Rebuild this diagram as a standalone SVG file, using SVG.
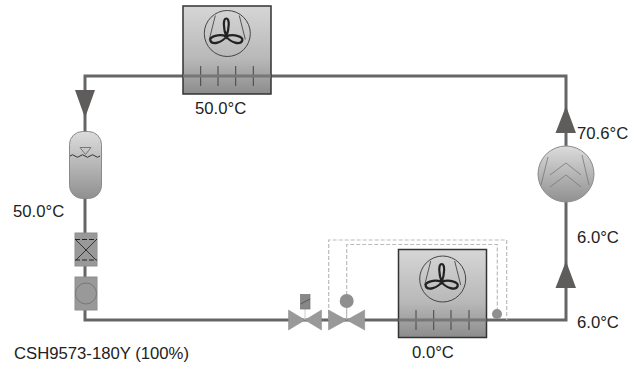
<svg xmlns="http://www.w3.org/2000/svg" width="642" height="365" viewBox="0 0 642 365">
<style>
text{font-family:"Liberation Sans",Arial,sans-serif;font-size:16.700px;fill:#222}
.pipe{fill:none;stroke:#666;stroke-width:3}
.box{stroke:#333;stroke-width:1.500;fill:url(#g)}
.tick{stroke:#444;stroke-width:1;fill:none}
.thin{stroke:#555;stroke-width:1;fill:none}
.blade{fill:none;stroke:#222;stroke-width:2.200}
.dash{fill:none;stroke:#bbb;stroke-width:1.200;stroke-dasharray:4 2}
.arrow{fill:#5f5c5c}
.valve{fill:#999;stroke:#8a8a8a;stroke-width:.5}
.dev{fill:#999;stroke:#8e8e8e}
</style>
<defs>
<linearGradient id="g" x1="0" y1="0" x2="0" y2="1"><stop offset="0" stop-color="#d6d6d6"/><stop offset=".6" stop-color="#b8b8b8"/><stop offset="1" stop-color="#8c8c8c"/></linearGradient>
<linearGradient id="r" x1="0" y1="0" x2="0" y2="1"><stop offset="0" stop-color="#dcdcdc"/><stop offset="1" stop-color="#909090"/></linearGradient>
<g id="fan">
<circle r="23" fill="none" stroke="#444" stroke-width="1"/>
<path class="thin" d="M-12 -18L-18 6M12 -18L18 6"/>
<path class="blade" d="M-1 3C-4 -5 -4.500 -15 -1 -15C2.500 -15 2 -5 -1 3ZM-1 3C6 0 16 3 15 7C13 12 3 9 -1 3ZM-1 3C-8 0 -18 3 -17 7C-15 12 -5 9 -1 3Z"/>
</g>
</defs>
<g id="connectors">
<path class="pipe" d="M85 76H566V320H85Z"/>
<path class="arrow" d="M75 90H95L85 118Z"/>
<path class="arrow" d="M555.500 133H576L566 106Z"/>
<path class="arrow" d="M555.500 288H576L566 261Z"/>
<path class="dash" d="M328.700 320V240H506.700V320"/>
<path class="dash" d="M346.700 295V244.500H497.300V310"/>
</g>
<g id="condenser">
<rect class="box" x="183" y="6" width="88" height="88"/>
<use href="#fan" x="227.300" y="33.500"/>
<path class="tick" d="M200.700 66V86M218 66V86M235.700 66V86M253.300 66V86"/>
<path d="M183 76H271" stroke="#777" stroke-width="3"/>
</g>
<g id="receiver">
<rect x="69.500" y="131.500" width="32" height="67" rx="13" fill="url(#r)" stroke="#8a8a8a"/>
<path d="M70 156q2.500 -2.500 5 0t5 0t5 0t5 0t5 0t5 0" fill="none" stroke="#333" stroke-width="1"/>
<path d="M80 147.500H91L85.500 154.500Z" fill="none" stroke="#777"/>
</g>
<g id="filter">
<rect class="dev" x="75" y="233" width="22" height="33"/>
<path d="M75 239.500H97M75 260H97" stroke="#222" stroke-width="1" stroke-dasharray="5 2"/>
<path d="M76 240L96 260M96 240L76 260" stroke="#333" stroke-width="1"/>
</g>
<g id="sightglass">
<rect class="dev" x="75" y="277" width="22" height="33"/>
<circle cx="86" cy="293.500" r="10.500" fill="#999" stroke="#777"/>
</g>
<g id="solenoid-valve">
<path class="valve" d="M288.500 310V330L305 320L321.500 330V310L305 320Z"/>
<path d="M305 309V320" stroke="#ccc"/>
<rect x="300.500" y="294.500" width="9.500" height="14.500" fill="#888" stroke="#777" stroke-width=".7"/>
<path d="M300.500 304L310 299" stroke="#444" stroke-width=".7"/>
</g>
<g id="expansion-valve">
<path class="valve" d="M328.500 310V330L346.700 320L364.700 330V310L346.700 320Z"/>
<path d="M346.700 307V320" stroke="#aaa"/>
<circle cx="346.700" cy="301" r="7" fill="#8f8f8f"/>
</g>
<g id="evaporator">
<rect class="box" x="398.500" y="249.500" width="88" height="88"/>
<use href="#fan" x="442.700" y="279"/>
<path class="tick" d="M416 310V330M433.700 310V330M451 310V330M469 310V330"/>
<path d="M398.500 320H486.500" stroke="#777" stroke-width="3"/>
</g>
<g id="bulb"><circle cx="497" cy="314" r="5" fill="#8f8f8f"/></g>
<g id="compressor">
<circle cx="566" cy="174" r="28" fill="url(#r)" stroke="#8a8a8a"/>
<path d="M548 157L541 185M582 155L589 185M550 175L566 163L581 175M550 187L566 175L581 187" fill="none" stroke="#777" stroke-width=".8"/>
</g>
<g id="labels">
<text x="195" y="114">50.0°C</text>
<text x="577" y="139">70.6°C</text>
<text x="13" y="217">50.0°C</text>
<text x="577" y="243">6.0°C</text>
<text x="577" y="328">6.0°C</text>
<text x="412" y="358">0.0°C</text>
<text x="14" y="359">CSH9573-180Y (100%)</text>
</g>
</svg>
